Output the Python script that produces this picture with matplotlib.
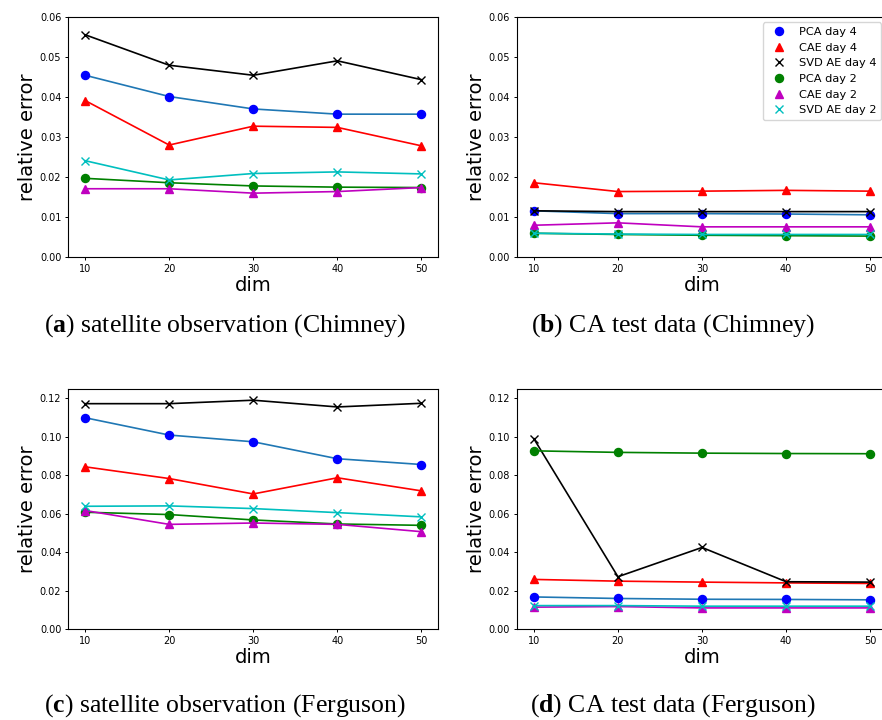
import matplotlib
matplotlib.use("Agg")
import matplotlib.pyplot as plt

dims = [10, 20, 30, 40, 50]

# (a) satellite observation (Chimney)
a_pca4 = [0.0454, 0.0401, 0.0370, 0.0357, 0.0357]
a_cae4 = [0.0391, 0.0280, 0.0327, 0.0324, 0.0278]
a_svd4 = [0.0555, 0.0479, 0.0454, 0.0490, 0.0443]
a_pca2 = [0.0197, 0.0186, 0.0178, 0.0175, 0.0174]
a_cae2 = [0.0171, 0.0171, 0.0160, 0.0164, 0.0174]
a_svd2 = [0.0241, 0.0193, 0.0209, 0.0213, 0.0208]

# (b) CA test data (Chimney)
b_pca4 = [0.0116, 0.0109, 0.0109, 0.0108, 0.0106]
b_cae4 = [0.0186, 0.0164, 0.0165, 0.0167, 0.0165]
b_svd4 = [0.0116, 0.0114, 0.0114, 0.0114, 0.0114]
b_pca2 = [0.0060, 0.0057, 0.0055, 0.0054, 0.0053]
b_cae2 = [0.0080, 0.0086, 0.0076, 0.0076, 0.0076]
b_svd2 = [0.0060, 0.0058, 0.0057, 0.0057, 0.0057]

# (c) satellite observation (Ferguson)
c_pca4 = [0.1099, 0.1009, 0.0974, 0.0886, 0.0856]
c_cae4 = [0.0844, 0.0783, 0.0703, 0.0787, 0.0719]
c_svd4 = [0.1172, 0.1172, 0.1190, 0.1155, 0.1174]
c_pca2 = [0.0608, 0.0596, 0.0568, 0.0547, 0.0540]
c_cae2 = [0.0617, 0.0545, 0.0552, 0.0545, 0.0507]
c_svd2 = [0.0639, 0.0641, 0.0627, 0.0606, 0.0584]

# (d) CA test data (Ferguson)
d_pca4 = [0.0168, 0.0160, 0.0156, 0.0155, 0.0153]
d_cae4 = [0.0259, 0.0250, 0.0245, 0.0241, 0.0238]
d_svd4 = [0.0990, 0.0273, 0.0425, 0.0247, 0.0245]
d_pca2 = [0.0927, 0.0919, 0.0915, 0.0913, 0.0912]
d_cae2 = [0.0115, 0.0118, 0.0111, 0.0111, 0.0111]
d_svd2 = [0.0123, 0.0123, 0.0120, 0.0120, 0.0120]

labels = ["PCA day 4", "CAE day 4", "SVD AE day 4",
          "PCA day 2", "CAE day 2", "SVD AE day 2"]
# (marker, marker colour, line colour)
styles = [("o", "b", "#1f77b4"), ("^", "r", "r"), ("x", "k", "k"),
          ("o", "g", "g"), ("^", "m", "m"), ("x", "c", "c")]

panels = [
    ([a_pca4, a_cae4, a_svd4, a_pca2, a_cae2, a_svd2], 0.06,
     "a", "satellite observation (Chimney)"),
    ([b_pca4, b_cae4, b_svd4, b_pca2, b_cae2, b_svd2], 0.06,
     "b", "CA test data (Chimney)"),
    ([c_pca4, c_cae4, c_svd4, c_pca2, c_cae2, c_svd2], 0.125,
     "c", "satellite observation (Ferguson)"),
    ([d_pca4, d_cae4, d_svd4, d_pca2, d_cae2, d_svd2], 0.125,
     "d", "CA test data (Ferguson)"),
]

plt.rcParams["mathtext.fontset"] = "custom"
plt.rcParams["mathtext.rm"] = "Liberation Serif"
plt.rcParams["mathtext.bf"] = "Liberation Serif:bold"

fig = plt.figure(figsize=(8.82, 7.2), dpi=100)

# panel b/d run a few pixels past the right edge, as in the source
lefts = [0.0774, 0.5862, 0.0774, 0.5862]
bottoms = [0.6426, 0.6426, 0.1260, 0.1260]
cap_x = [0.2545, 0.763, 0.2545, 0.763]
cap_y = [0.548, 0.548, 0.020, 0.020]

for i, (series, ytop, letter, caption) in enumerate(panels):
    ax = fig.add_axes([lefts[i], bottoms[i], 0.4195, 0.3342])
    for ys, lab, (mk, mc, lc) in zip(series, labels, styles):
        ax.plot(dims, ys, "-", color=lc, linewidth=1.2)
        ax.plot(dims, ys, mk, color=mc, linestyle="none", markersize=5.8,
                markeredgewidth=1.0, label=lab)
    ax.set_ylim(0, ytop)
    ax.set_xticks(dims)
    if ytop < 0.1:
        ax.set_yticks([0, 0.01, 0.02, 0.03, 0.04, 0.05, 0.06])
    else:
        ax.set_yticks([0, 0.02, 0.04, 0.06, 0.08, 0.10, 0.12])
    ax.yaxis.set_major_formatter(plt.FormatStrFormatter("%.2f"))
    ax.tick_params(labelsize=7, length=2.5, pad=2.5, width=0.7)
    for sp in ax.spines.values():
        sp.set_linewidth(0.8)
    ax.set_xlabel("dim", fontsize=14, labelpad=1)
    ax.set_ylabel("relative error", fontsize=14, labelpad=2)
    if letter == "b":
        ax.legend(loc="upper right", fontsize=8.2, handletextpad=0.8)
    fig.text(cap_x[i], cap_y[i], "(" + r"$\mathbf{" + letter + "}$" + ") " + caption,
             family="Liberation Serif", fontsize=18.5, ha="center", va="center")

fig.savefig("out.png", dpi=100)
